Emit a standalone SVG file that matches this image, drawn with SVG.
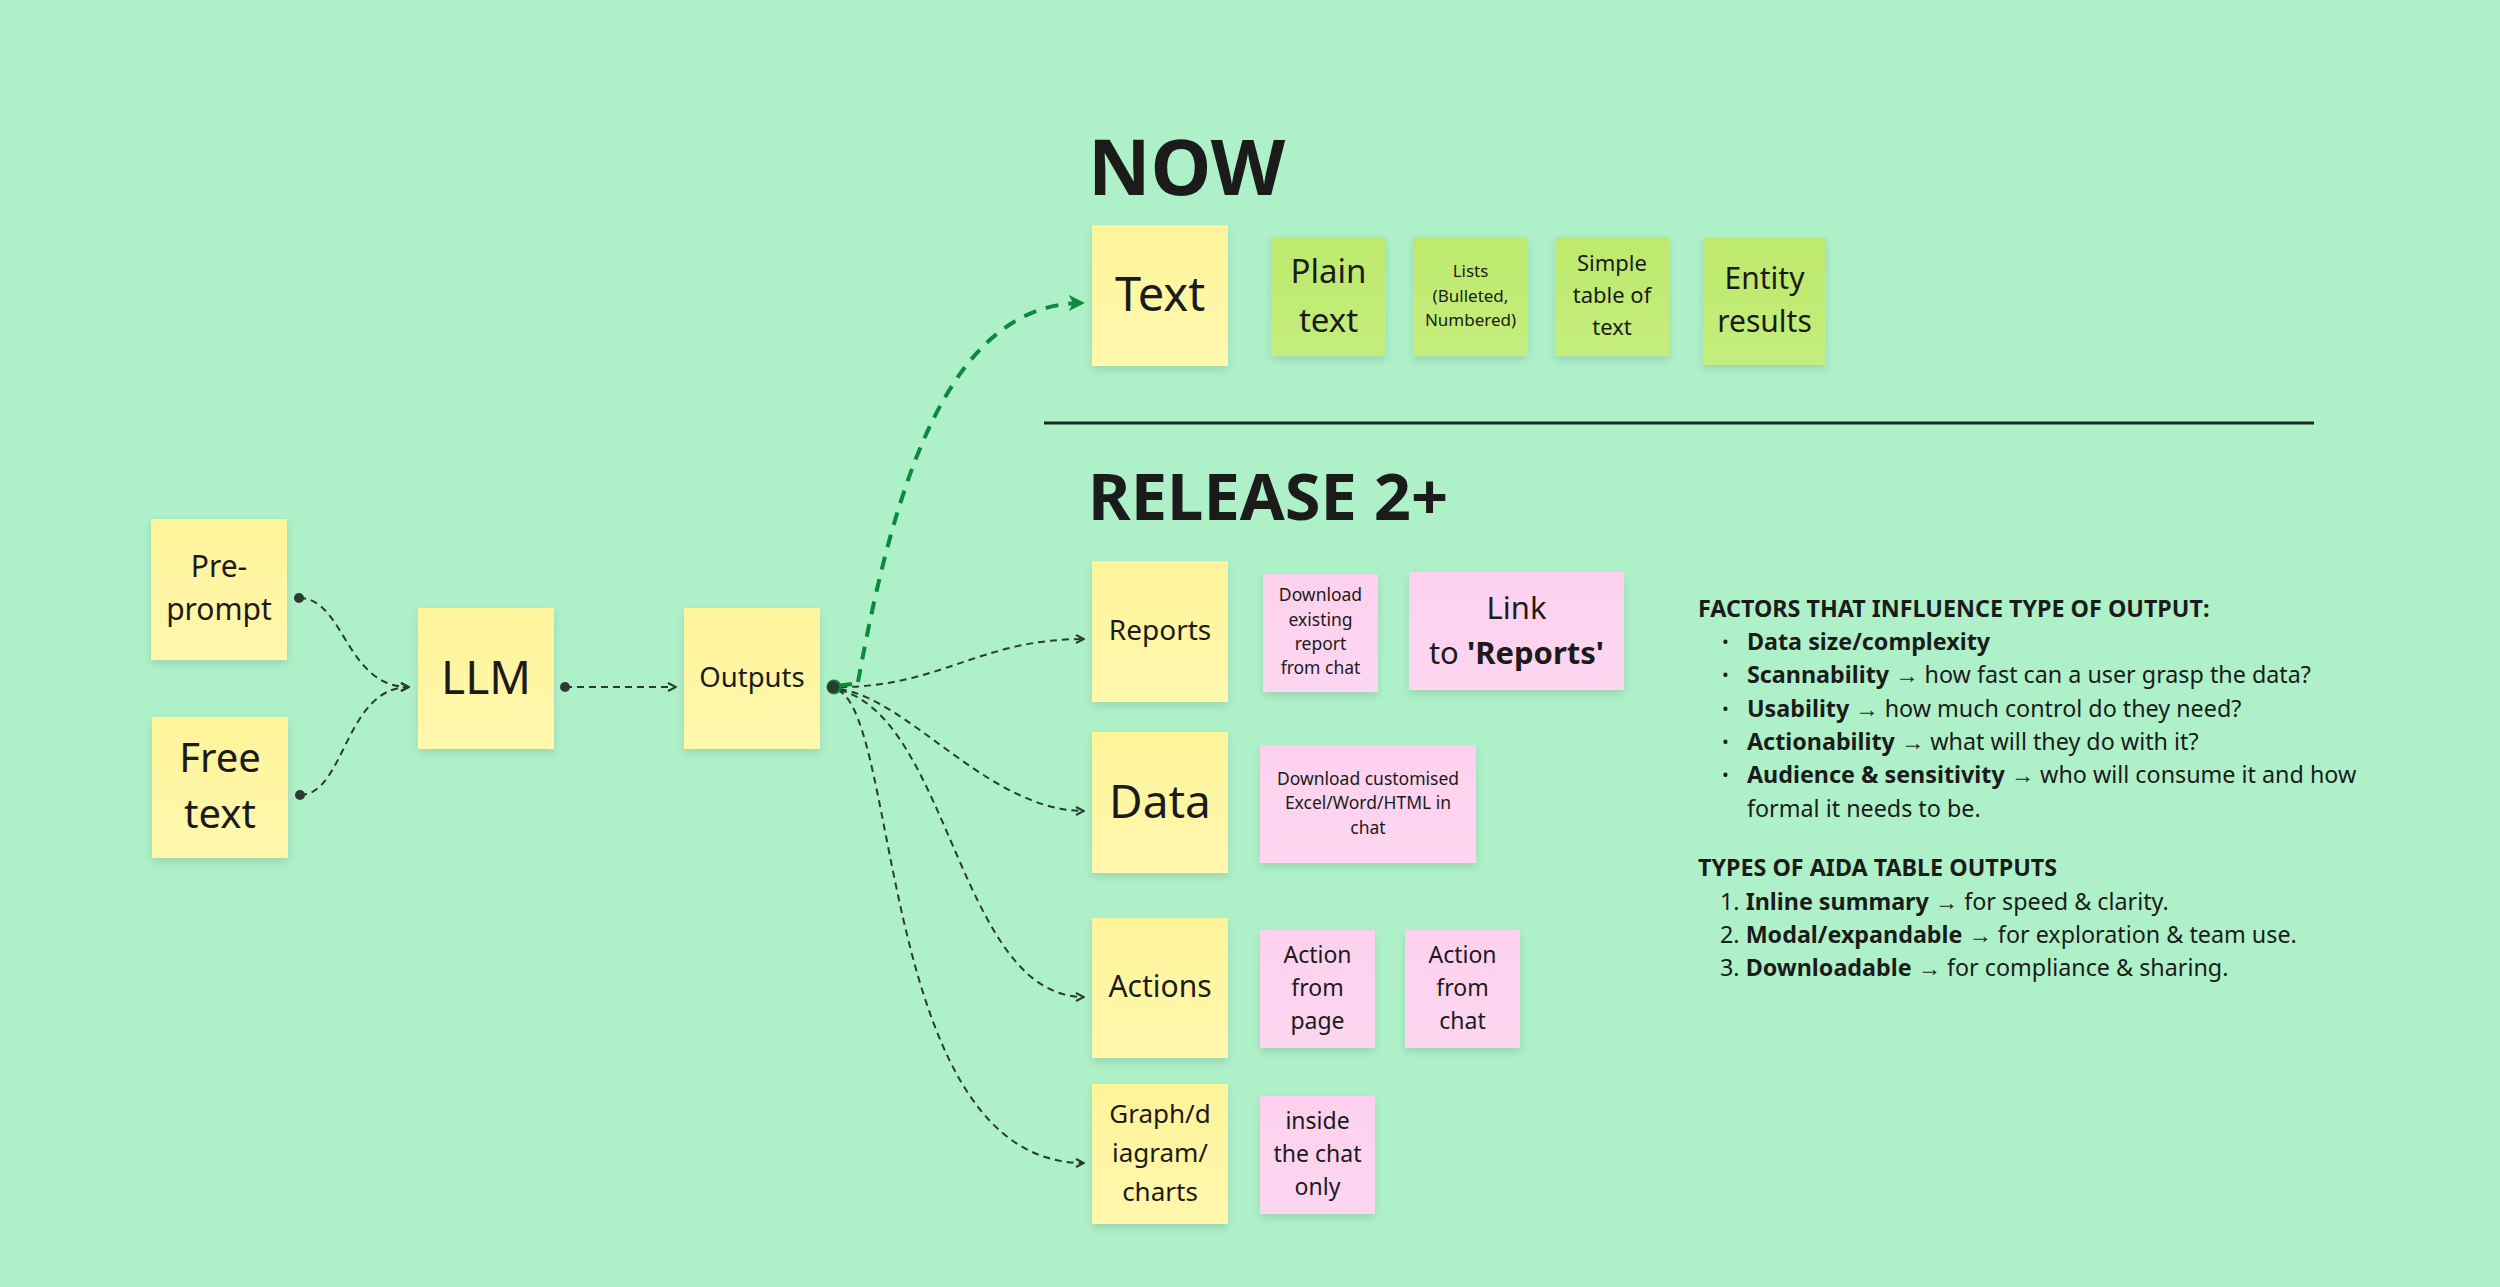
<svg xmlns="http://www.w3.org/2000/svg" width="2500" height="1287" viewBox="0 0 2500 1287">
<defs>
<filter id="sh" x="-10%" y="-10%" width="120%" height="130%">
<feDropShadow dx="0" dy="4" stdDeviation="4" flood-color="#000" flood-opacity="0.12"/>
</filter>
<linearGradient id="gy" x1="0" y1="0" x2="0" y2="1"><stop offset="0" stop-color="#fff49a"/><stop offset="1" stop-color="#fff7ad"/></linearGradient>
<linearGradient id="gg" x1="0" y1="0" x2="0" y2="1"><stop offset="0" stop-color="#bde96c"/><stop offset="1" stop-color="#c4ee7c"/></linearGradient>
<linearGradient id="gp" x1="0" y1="0" x2="0" y2="1"><stop offset="0" stop-color="#fdd1ee"/><stop offset="1" stop-color="#fdd6f0"/></linearGradient>
<marker id="ah" viewBox="0 0 10 10" refX="9" refY="5" markerWidth="10" markerHeight="10" markerUnits="userSpaceOnUse" orient="auto">
<path d="M1,1 L9,5 L1,9" fill="none" stroke="#2d3a34" stroke-width="2"/>
</marker>
<marker id="ahg" viewBox="0 0 10 10" refX="8" refY="5" markerWidth="18" markerHeight="18" markerUnits="userSpaceOnUse" orient="auto">
<path d="M0,0.5 L9,5 L0,9.5 L2.5,5 Z" fill="#0b8a3c"/>
</marker>
</defs>
<style>
text{font-family:"Noto Sans","Open Sans","Liberation Sans",sans-serif;fill:#1b1b1b}
.y{fill:url(#gy);filter:url(#sh)}
.g{fill:url(#gg);filter:url(#sh)}
.p{fill:url(#gp);filter:url(#sh)}
.c{text-anchor:middle}
.con{fill:none;stroke:#2d3a34;stroke-width:2;stroke-dasharray:7 5;marker-end:url(#ah)}
.dot{fill:#2d3a34}
.h{font-weight:700}
.t{font-size:23.3px}
.bl{font-size:18px}
.b{font-weight:700}
</style>
<rect width="2500" height="1287" fill="#aef1c9"/>

<g id="connectors">
<path class="con" d="M299 598 C345 598 345 687 409 687"/>
<path class="con" d="M300 795 C345 795 345 687 409 687"/>
<path class="con" d="M565 687 L676 687"/>
<path class="con" d="M840 687 C940 687 980 639 1084 639"/>
<path class="con" d="M840 689 C910 700 990 811 1084 811"/>
<path class="con" d="M840 690 C950 720 960 997 1084 997"/>
<path class="con" d="M838 690 C900 720 880 1163 1084 1163"/>
<path d="M836 686 L852 684" fill="none" stroke="#0b8a3c" stroke-width="4"/>
<path d="M858 682 C895 480 950 303 1083 303" fill="none" stroke="#0b8a3c" stroke-width="4" stroke-dasharray="13 10" marker-end="url(#ahg)"/>
<circle class="dot" cx="299" cy="598" r="5"/>
<circle class="dot" cx="300" cy="795" r="5"/>
<circle class="dot" cx="565" cy="687" r="5"/>
<circle cx="834" cy="687" r="7.5" fill="#0b8a3c"/>
<circle class="dot" cx="833" cy="687" r="6"/>
</g>

<g id="headings">
<text class="h" x="1088" y="195" font-size="77">NOW</text>
<line x1="1044" y1="423" x2="2314" y2="423" stroke="#1b2a22" stroke-width="3"/>
<text class="h" x="1088" y="520" font-size="65">RELEASE 2+</text>
</g>

<g id="n-preprompt"><rect class="y" x="151" y="519" width="136" height="141"/>
<text class="c" x="219" y="577" font-size="30">Pre-</text><text class="c" x="219" y="620" font-size="30">prompt</text></g>
<g id="n-freetext"><rect class="y" x="152" y="717" width="136" height="141"/>
<text class="c" x="220" y="772" font-size="40">Free</text><text class="c" x="220" y="828" font-size="40">text</text></g>
<g id="n-llm"><rect class="y" x="418" y="608" width="136" height="141"/>
<text class="c" x="486" y="694" font-size="46">LLM</text></g>
<g id="n-outputs"><rect class="y" x="684" y="608" width="136" height="141"/>
<text class="c" x="752" y="687" font-size="27.5">Outputs</text></g>

<g id="n-text"><rect class="y" x="1092" y="225" width="136" height="141"/>
<text class="c" x="1160" y="311" font-size="47">Text</text></g>
<g id="n-plain"><rect class="g" x="1271" y="237" width="115" height="119"/>
<text class="c" x="1328.5" y="283" font-size="33">Plain</text><text class="c" x="1328.5" y="332" font-size="33">text</text></g>
<g id="n-lists"><rect class="g" x="1413" y="237" width="115" height="119"/>
<text class="c" x="1470.5" y="277" font-size="17">Lists</text><text class="c" x="1470.5" y="302" font-size="17">(Bulleted,</text><text class="c" x="1470.5" y="326" font-size="17">Numbered)</text></g>
<g id="n-simple"><rect class="g" x="1555" y="237" width="114" height="119"/>
<text class="c" x="1612" y="271" font-size="22">Simple</text><text class="c" x="1612" y="303" font-size="22">table of</text><text class="c" x="1612" y="335" font-size="22">text</text></g>
<g id="n-entity"><rect class="g" x="1703" y="238" width="123" height="127"/>
<text class="c" x="1764.5" y="289" font-size="30">Entity</text><text class="c" x="1764.5" y="332" font-size="30">results</text></g>

<g id="n-reports"><rect class="y" x="1092" y="561" width="136" height="141"/>
<text class="c" x="1160" y="640" font-size="28">Reports</text></g>
<g id="n-dlexisting"><rect class="p" x="1263" y="574" width="115" height="118"/>
<text class="c" x="1320.5" y="601" font-size="17.5">Download</text><text class="c" x="1320.5" y="626" font-size="17.5">existing</text><text class="c" x="1320.5" y="650" font-size="17.5">report</text><text class="c" x="1320.5" y="674" font-size="17.5">from chat</text></g>
<g id="n-link"><rect class="p" x="1409" y="572" width="215" height="118"/>
<text class="c" x="1516.5" y="619" font-size="31">Link</text><text class="c" x="1516.5" y="664" font-size="31">to <tspan class="b">'Reports'</tspan></text></g>
<g id="n-data"><rect class="y" x="1092" y="732" width="136" height="141"/>
<text class="c" x="1160" y="818" font-size="46">Data</text></g>
<g id="n-dlcustom"><rect class="p" x="1260" y="745" width="216" height="118"/>
<text class="c" x="1368" y="785" font-size="17.5">Download customised</text><text class="c" x="1368" y="809" font-size="17.5">Excel/Word/HTML in</text><text class="c" x="1368" y="834" font-size="17.5">chat</text></g>
<g id="n-actions"><rect class="y" x="1092" y="918" width="136" height="140"/>
<text class="c" x="1160" y="997" font-size="30">Actions</text></g>
<g id="n-actpage"><rect class="p" x="1260" y="930" width="115" height="118"/>
<text class="c" x="1317.5" y="963" font-size="23">Action</text><text class="c" x="1317.5" y="996" font-size="23">from</text><text class="c" x="1317.5" y="1029" font-size="23">page</text></g>
<g id="n-actchat"><rect class="p" x="1405" y="930" width="115" height="118"/>
<text class="c" x="1462.5" y="963" font-size="23">Action</text><text class="c" x="1462.5" y="996" font-size="23">from</text><text class="c" x="1462.5" y="1029" font-size="23">chat</text></g>
<g id="n-graph"><rect class="y" x="1092" y="1084" width="136" height="140"/>
<text class="c" x="1160" y="1123" font-size="26">Graph/d</text><text class="c" x="1160" y="1162" font-size="26">iagram/</text><text class="c" x="1160" y="1201" font-size="26">charts</text></g>
<g id="n-inside"><rect class="p" x="1260" y="1096" width="115" height="118"/>
<text class="c" x="1317.5" y="1129" font-size="23">inside</text><text class="c" x="1317.5" y="1162" font-size="23">the chat</text><text class="c" x="1317.5" y="1195" font-size="23">only</text></g>

<g id="notes">
<text class="t b" x="1698" y="617">FACTORS THAT INFLUENCE TYPE OF OUTPUT:</text>
<text class="bl" x="1722" y="648">•</text><text class="t" x="1747" y="650"><tspan class="b">Data size/complexity</tspan></text>
<text class="bl" x="1722" y="681">•</text><text class="t" x="1747" y="683"><tspan class="b">Scannability</tspan> → how fast can a user grasp the data?</text>
<text class="bl" x="1722" y="715">•</text><text class="t" x="1747" y="717"><tspan class="b">Usability</tspan> → how much control do they need?</text>
<text class="bl" x="1722" y="748">•</text><text class="t" x="1747" y="750"><tspan class="b">Actionability</tspan> → what will they do with it?</text>
<text class="bl" x="1722" y="781">•</text><text class="t" x="1747" y="783"><tspan class="b">Audience &amp; sensitivity</tspan> → who will consume it and how</text>
<text class="t" x="1747" y="817">formal it needs to be.</text>
<text class="t b" x="1698" y="876">TYPES OF AIDA TABLE OUTPUTS</text>
<text class="t" x="1720" y="910">1. <tspan class="b">Inline summary</tspan> → for speed &amp; clarity.</text>
<text class="t" x="1720" y="943">2. <tspan class="b">Modal/expandable</tspan> → for exploration &amp; team use.</text>
<text class="t" x="1720" y="976">3. <tspan class="b">Downloadable</tspan> → for compliance &amp; sharing.</text>
</g>
</svg>
